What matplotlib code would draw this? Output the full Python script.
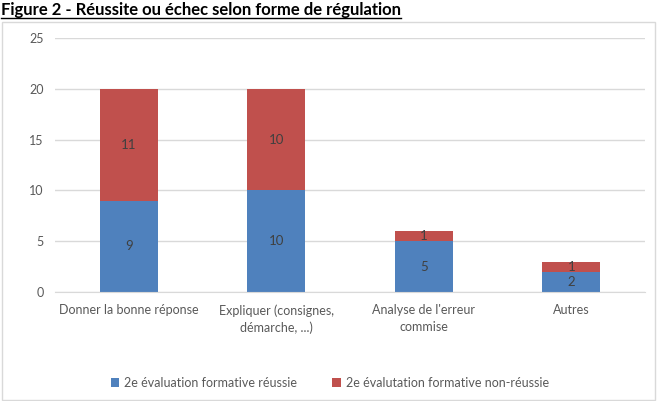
import matplotlib
matplotlib.use("Agg")
import matplotlib.pyplot as plt
from matplotlib.patches import Rectangle
from matplotlib.lines import Line2D

categories = ["Donner la bonne réponse", "Expliquer (consignes,\ndémarche, ...)",
              "Analyse de l'erreur\ncommise", "Autres"]
reussie = [9, 10, 5, 2]
non_reussie = [11, 10, 1, 1]
series_names = ["2e évaluation formative réussie", "2e évalutation formative non-réussie"]
yticks = [0, 5, 10, 15, 20, 25]

plt.rcParams['font.family'] = ['Lato', 'DejaVu Sans']
blue = "#4F81BD"
red = "#C0504D"
gray = "#595959"

fig = plt.figure(figsize=(6.57, 4.01), dpi=100)
W, H = 657, 401

# chart frame
fig.patches.append(Rectangle((2 / W, 0.002), 653 / W, (401 - 22) / H - 0.002,
                             transform=fig.transFigure, fill=False,
                             edgecolor="#d9d9d9", linewidth=1))

ax = fig.add_axes([55 / W, 109 / H, 590 / W, 254 / H])
x = range(len(categories))
b1 = ax.bar(x, reussie, width=0.39, color=blue)
b2 = ax.bar(x, non_reussie, width=0.39, bottom=reussie, color=red)
for bars, vals, bottoms in [(b1, reussie, [0] * 4), (b2, non_reussie, reussie)]:
    for rect, v, b in zip(bars, vals, bottoms):
        ax.text(rect.get_x() + rect.get_width() / 2, b + v / 2, str(v),
                ha="center", va="center", fontsize=9.5, color="#404040")

ax.set_xlim(-0.5, len(categories) - 0.5)
ax.set_ylim(0, 25)
ax.set_yticks(yticks)
ax.set_xticks(list(x))
ax.set_xticklabels(categories, linespacing=1.45)
ax.tick_params(length=0, labelsize=9, colors=gray, pad=9)
ax.tick_params(axis="y", pad=8)
ax.grid(axis="y", color="#d9d9d9", linewidth=1)
ax.set_axisbelow(True)
for s in ["top", "right", "left"]:
    ax.spines[s].set_visible(False)
ax.spines["bottom"].set_color("#d9d9d9")

fig.legend([b1, b2], series_names, loc="center", bbox_to_anchor=(330 / W, 1 - 383 / H),
           ncol=2, frameon=False, fontsize=9, labelcolor=gray,
           handlelength=0.7, handleheight=0.7, columnspacing=2.8, handletextpad=0.4)

# title with underline
t = fig.text(1 / W, 1 - 10 / H, "Figure 2 - Réussite ou échec selon forme de régulation",
             fontsize=12, fontweight="bold", va="center", ha="left", color="black")
fig.canvas.draw()
bb = t.get_window_extent().transformed(fig.transFigure.inverted())
fig.lines.append(Line2D([bb.x0, bb.x1], [bb.y0 + 0.001, bb.y0 + 0.001],
                        transform=fig.transFigure, color="black", linewidth=1))

fig.savefig("out.png", dpi=100)
